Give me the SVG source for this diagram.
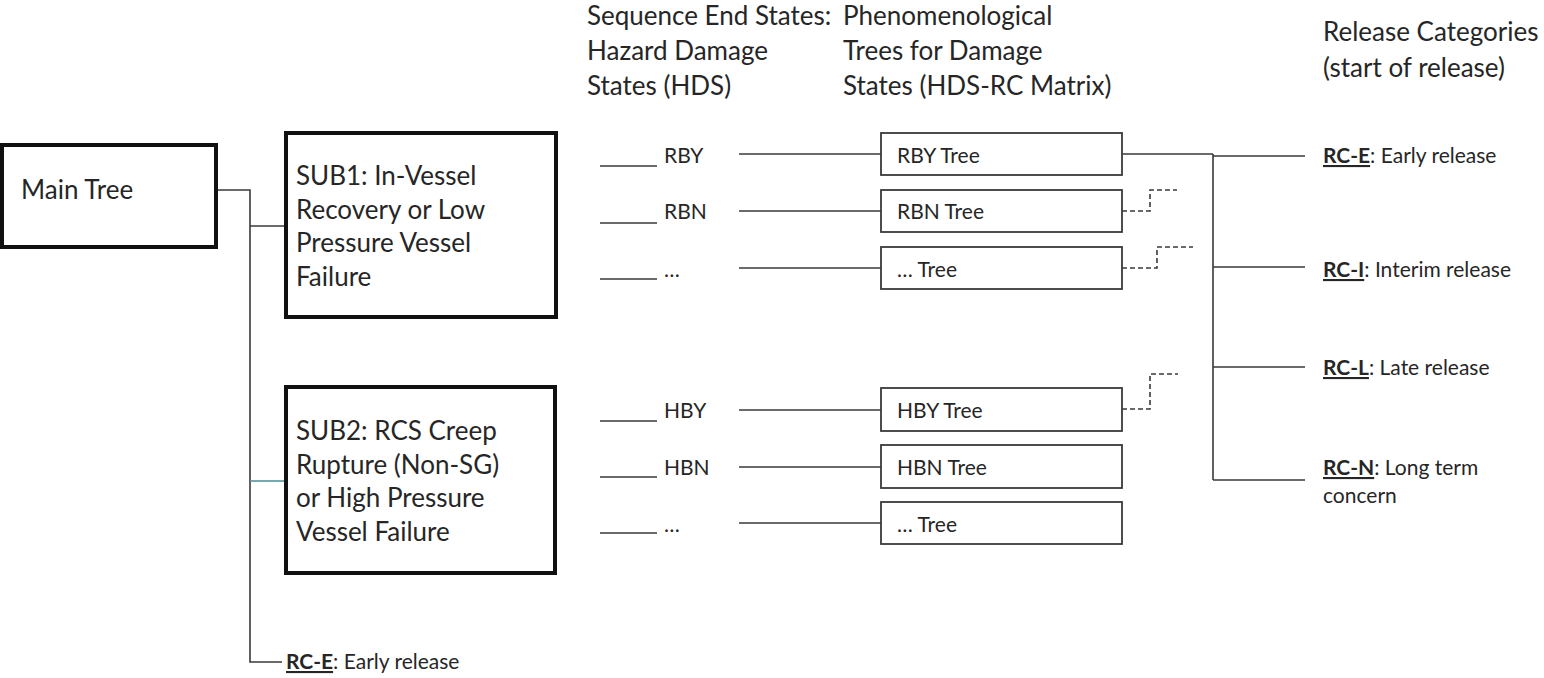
<svg xmlns="http://www.w3.org/2000/svg" width="1544" height="678" viewBox="0 0 1544 678">
  <style>
    text { font-family: Lato, "Open Sans", "Liberation Sans", sans-serif; fill: #262626; }
    .big { font-size: 26px; }
    .sm { font-size: 21px; }
    .thick { fill: #fff; stroke: #111; stroke-width: 4; }
    .thin { fill: #fff; stroke: #3a3a3a; stroke-width: 1.8; }
    .ln { fill: none; stroke: #3a3a3a; stroke-width: 1.6; }
    .dash { fill: none; stroke: #3a3a3a; stroke-width: 1.6; stroke-dasharray: 5 3; }
    .teal { stroke: #4f8a95; }
    .rc { font-weight: bold; text-decoration: underline; }
  </style>
  <rect width="1544" height="678" fill="#fff"/>

  <!-- column headings -->
  <g id="headings" class="big">
    <text x="587" y="25">Sequence End States:</text>
    <text x="587" y="60">Hazard Damage</text>
    <text x="587" y="95">States (HDS)</text>
    <text x="843" y="25">Phenomenological</text>
    <text x="843" y="60">Trees for Damage</text>
    <text x="843" y="95">States (HDS-RC Matrix)</text>
    <text x="1323" y="41">Release Categories</text>
    <text x="1323" y="77">(start of release)</text>
  </g>

  <!-- connectors -->
  <g id="connectors">
    <path class="ln" d="M216 190 H250 V662 H282"/>
    <path class="ln" d="M250 226 H285"/>
    <path class="ln teal" d="M250 481 H285"/>
    <!-- hazard damage state stubs -->
    <path class="ln" d="M600 166 H657 M600 223 H657 M600 279 H657 M600 421 H657 M600 477 H657 M600 533 H657"/>
    <!-- state to tree links -->
    <path class="ln" d="M739 154 H881 M739 211 H881 M739 268 H881 M739 410 H881 M739 467 H881 M739 523 H881"/>
    <!-- release category bus -->
    <path class="ln" d="M1122 154 H1213 M1213 154 V480 M1213 156 H1305 M1213 267 H1305 M1213 367 H1305 M1213 480 H1305"/>
    <!-- open-ended outputs -->
    <path class="dash" d="M1122 211 H1150 V190 H1177"/>
    <path class="dash" d="M1122 268 H1157 V247 H1193"/>
    <path class="dash" d="M1122 409 H1150 V374 H1178"/>
  </g>

  <g id="main-tree">
    <rect class="thick" x="2" y="145" width="214" height="102"/>
    <text class="big" x="21" y="199">Main Tree</text>
  </g>

  <g id="sub1">
    <rect class="thick" x="286" y="133" width="270" height="184"/>
    <text class="big" x="296" y="185">SUB1: In-Vessel</text>
    <text class="big" x="296" y="219">Recovery or Low</text>
    <text class="big" x="296" y="252">Pressure Vessel</text>
    <text class="big" x="296" y="286">Failure</text>
  </g>

  <g id="sub2">
    <rect class="thick" x="286" y="387" width="269" height="186"/>
    <text class="big" x="296" y="440">SUB2: RCS Creep</text>
    <text class="big" x="296" y="474">Rupture (Non-SG)</text>
    <text class="big" x="296" y="507">or High Pressure</text>
    <text class="big" x="296" y="541">Vessel Failure</text>
  </g>

  <g id="rc-e-main" class="sm">
    <text x="286" y="669"><tspan class="rc">RC-E</tspan>: Early release</text>
  </g>

  <!-- hazard damage states -->
  <g id="hds-labels" class="sm">
    <text id="hds-rby" x="664" y="163">RBY</text>
    <text id="hds-rbn" x="664" y="219">RBN</text>
    <text id="hds-r-more" x="664" y="277">…</text>
    <text id="hds-hby" x="664" y="418">HBY</text>
    <text id="hds-hbn" x="664" y="475">HBN</text>
    <text id="hds-h-more" x="664" y="532">…</text>
  </g>

  <!-- phenomenological trees -->
  <g id="tree-rby">
    <rect class="thin" x="881" y="133" width="241" height="42"/>
    <text class="sm" x="897" y="163">RBY Tree</text>
  </g>
  <g id="tree-rbn">
    <rect class="thin" x="881" y="190" width="241" height="42"/>
    <text class="sm" x="897" y="219">RBN Tree</text>
  </g>
  <g id="tree-r-more">
    <rect class="thin" x="881" y="247" width="241" height="42"/>
    <text class="sm" x="897" y="277">… Tree</text>
  </g>
  <g id="tree-hby">
    <rect class="thin" x="881" y="388" width="241" height="43"/>
    <text class="sm" x="897" y="418">HBY Tree</text>
  </g>
  <g id="tree-hbn">
    <rect class="thin" x="881" y="445" width="241" height="43"/>
    <text class="sm" x="897" y="475">HBN Tree</text>
  </g>
  <g id="tree-h-more">
    <rect class="thin" x="881" y="502" width="241" height="42"/>
    <text class="sm" x="897" y="532">… Tree</text>
  </g>

  <!-- release categories -->
  <g id="rc-e" class="sm">
    <text x="1323" y="163"><tspan class="rc">RC-E</tspan>: Early release</text>
  </g>
  <g id="rc-i" class="sm">
    <text x="1323" y="277"><tspan class="rc">RC-I</tspan>: Interim release</text>
  </g>
  <g id="rc-l" class="sm">
    <text x="1323" y="375"><tspan class="rc">RC-L</tspan>: Late release</text>
  </g>
  <g id="rc-n" class="sm">
    <text x="1323" y="475"><tspan class="rc">RC-N</tspan>: Long term</text>
    <text x="1323" y="503">concern</text>
  </g>
</svg>
